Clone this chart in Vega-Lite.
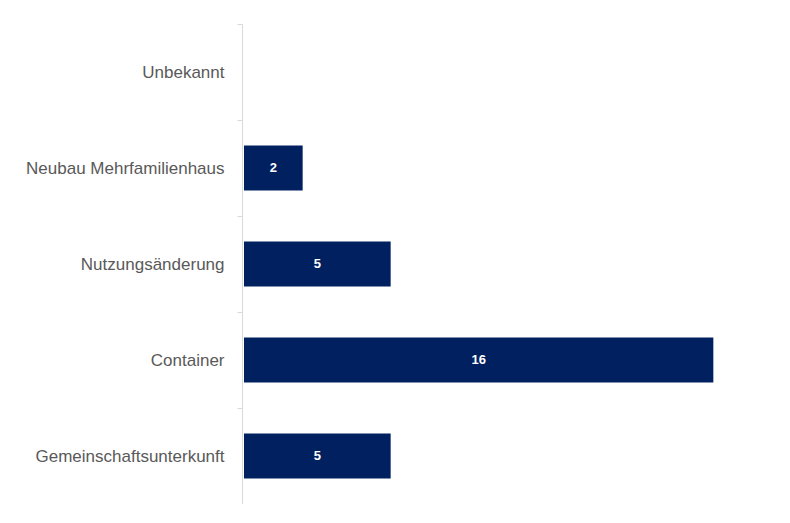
{
  "$schema": "https://vega.github.io/schema/vega-lite/v6.json",
  "autosize": {"type": "none"},
  "padding": {"left": 244, "top": 24, "right": 0, "bottom": 0},
  "width": 528,
  "height": 480,
  "background": "white",
  "config": {"view": {"stroke": null}},
  "data": {
    "values": [
      {"kategorie": "Unbekannt", "anzahl": 0},
      {"kategorie": "Neubau Mehrfamilienhaus", "anzahl": 2},
      {"kategorie": "Nutzungsänderung", "anzahl": 5},
      {"kategorie": "Container", "anzahl": 16},
      {"kategorie": "Gemeinschaftsunterkunft", "anzahl": 5}
    ]
  },
  "encoding": {
    "y": {
      "field": "kategorie",
      "type": "nominal",
      "sort": null,
      "scale": {"paddingInner": 0, "paddingOuter": 0},
      "axis": {
        "title": null,
        "offset": 2,
        "tickBand": "extent",
        "tickSize": 5,
        "tickColor": "#d9d9d9",
        "domainColor": "#d9d9d9",
        "labelFont": "Liberation Sans",
        "labelFontSize": 17,
        "labelColor": "#595959",
        "labelPadding": 13,
        "labelLimit": 400
      }
    }
  },
  "layer": [
    {
      "mark": {"type": "bar", "color": "#002060", "height": {"band": 0.47}},
      "encoding": {
        "x": {
          "field": "anzahl",
          "type": "quantitative",
          "scale": {"domain": [0, 18]},
          "axis": null
        }
      }
    },
    {
      "transform": [
        {"filter": "datum.anzahl > 0"},
        {"calculate": "datum.anzahl / 2", "as": "mitte"}
      ],
      "mark": {
        "type": "text",
        "color": "white",
        "font": "Liberation Sans",
        "fontWeight": "bold",
        "fontSize": 13,
        "align": "center",
        "baseline": "middle"
      },
      "encoding": {
        "x": {"field": "mitte", "type": "quantitative", "scale": {"domain": [0, 18]}},
        "text": {"field": "anzahl", "type": "quantitative"}
      }
    }
  ]
}
